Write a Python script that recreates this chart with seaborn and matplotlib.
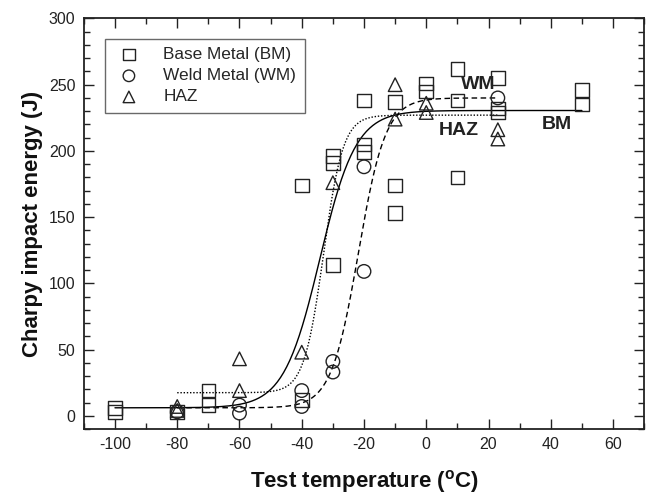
import numpy as np
import pandas as pd
import matplotlib
matplotlib.use("Agg")
import matplotlib.pyplot as plt
from matplotlib.ticker import MultipleLocator
import seaborn as sns

# ------------------------------------------------------------
# Data
# ------------------------------------------------------------

bm_temp = [-100, -100, -80, -70, -70, -40, -40, -30, -30, -30, -20, -20, -20,
           -10, -10, -10, 0, 0, 10, 10, 10, 23, 23, 23, 50, 50]
bm_energy = [3, 6, 3, 19, 8, 174, 12, 196, 191, 114, 238, 205, 199,
             237, 174, 153, 251, 245, 262, 238, 180, 255, 232, 229, 246, 235]

wm_temp = [-80, -60, -60, -40, -40, -30, -30, -20, -20, 23]
wm_energy = [3, 8, 2, 19, 7, 41, 33, 188, 109, 240]

haz_temp = [-80, -80, -60, -60, -40, -30, -10, -10, 0, 0, 23, 23]
haz_energy = [7, 4, 43, 19, 48, 176, 250, 224, 236, 229, 216, 209]

# tanh fit parameters: lower shelf, upper shelf, T0, C, T range
bm_fit = (6, 230.5, -34.2, 11.6, -100, 50)
wm_fit = (6, 240, -21.8, 8.75, -80, 23)
haz_fit = (17.4, 227, -33.0, 6.3, -80, 23)

labels = ["Base Metal (BM)", "Weld Metal (WM)", "HAZ"]

# ------------------------------------------------------------
# Build tables
# ------------------------------------------------------------

df = pd.concat([
    pd.DataFrame({"temp": bm_temp, "energy": bm_energy, "group": labels[0]}),
    pd.DataFrame({"temp": wm_temp, "energy": wm_energy, "group": labels[1]}),
    pd.DataFrame({"temp": haz_temp, "energy": haz_energy, "group": labels[2]}),
])


def tanh_curve(fit):
    lo, hi, t0, c, tmin, tmax = fit
    t = np.linspace(tmin, tmax, 300)
    e = (lo + hi) / 2 + (hi - lo) / 2 * np.tanh((t - t0) / c)
    return pd.DataFrame({"temp": t, "energy": e})


# ------------------------------------------------------------
# Plot
# ------------------------------------------------------------

sns.set_style("ticks")
plt.rcParams["font.family"] = ["Liberation Sans", "DejaVu Sans"]
plt.rcParams["mathtext.fontset"] = "custom"
plt.rcParams["mathtext.rm"] = "Liberation Sans"
plt.rcParams["mathtext.bf"] = "Liberation Sans:bold"
plt.rcParams["axes.unicode_minus"] = False

fig = plt.figure(figsize=(6.5, 4.94), dpi=100)
ax = fig.add_axes([0.129, 0.1316, 0.862, 0.831])

sns.lineplot(data=tanh_curve(bm_fit), x="temp", y="energy", ax=ax,
             color="black", lw=1.0, linestyle="-", sort=False)
sns.lineplot(data=tanh_curve(wm_fit), x="temp", y="energy", ax=ax,
             color="black", lw=1.0, linestyle=(0, (4, 2.5)), sort=False)
sns.lineplot(data=tanh_curve(haz_fit), x="temp", y="energy", ax=ax,
             color="black", lw=1.0, linestyle=(0, (1, 1.3)), sort=False)

markers = {labels[0]: "s", labels[1]: "o", labels[2]: "^"}
for name in labels:
    sub = df[df["group"] == name]
    sns.scatterplot(data=sub, x="temp", y="energy", marker=markers[name],
                    s=95, facecolor="none", edgecolor="#222222",
                    linewidth=1.0, ax=ax, label=name, zorder=3)

ax.text(16.6, 250, "WM", fontsize=14, fontweight="bold", ha="center",
        va="center", color="#222222")
ax.text(10.4, 215.6, "HAZ", fontsize=14, fontweight="bold", ha="center",
        va="center", color="#222222")
ax.text(41.8, 220, "BM", fontsize=14, fontweight="bold", ha="center",
        va="center", color="#222222")

ax.set_xlim(-110, 70)
ax.set_ylim(-10, 300)
ax.xaxis.set_major_locator(MultipleLocator(20))
ax.xaxis.set_minor_locator(MultipleLocator(10))
ax.yaxis.set_major_locator(MultipleLocator(50))
ax.yaxis.set_minor_locator(MultipleLocator(10))
ax.tick_params(which="both", direction="in", top=True, right=True,
               labelsize=11.5, width=1.0, colors="#222222")
ax.tick_params(which="major", length=7, pad=6)
ax.tick_params(which="minor", length=4)
for sp in ax.spines.values():
    sp.set_linewidth(1.3)
    sp.set_color("#222222")

ax.set_xlabel(r"Test temperature ($^\mathbf{o}$C)", fontsize=16,
              fontweight="bold", labelpad=11, color="#111111")
ax.set_ylabel("Charpy impact energy (J)", fontsize=16, fontweight="bold",
              labelpad=4, color="#111111")

leg = ax.legend(loc="upper left", bbox_to_anchor=(0.022, 0.972), fontsize=12.4,
                frameon=True, fancybox=False, edgecolor="#444444",
                handletextpad=1.1, borderpad=0.5, labelspacing=0.35,
                handlelength=1.8, markerscale=0.85)
leg.get_frame().set_linewidth(1.0)

fig.savefig("out.png", dpi=100)
